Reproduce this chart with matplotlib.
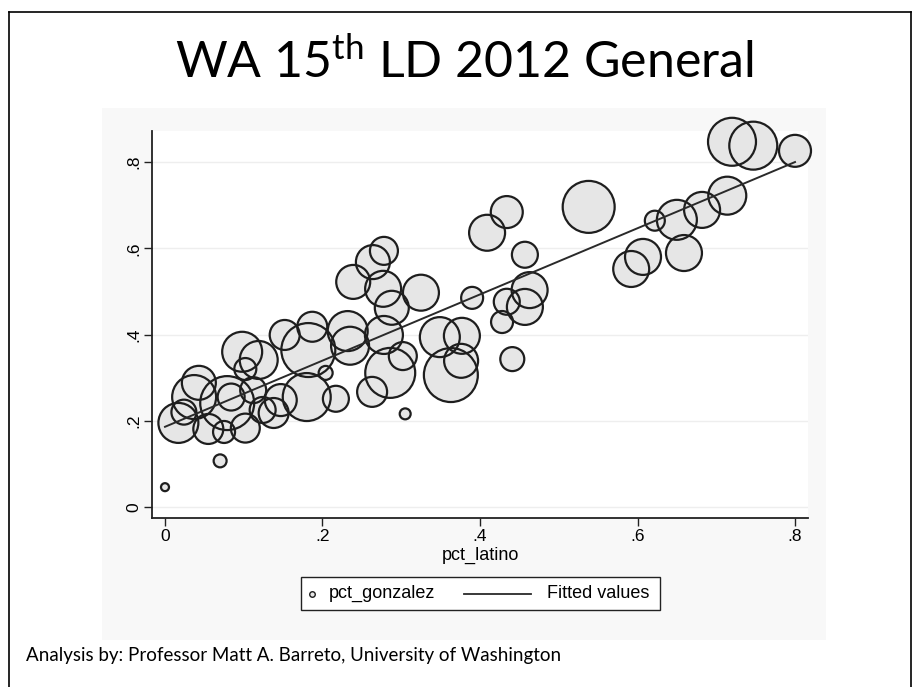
import matplotlib
matplotlib.use("Agg")
import matplotlib.pyplot as plt
from matplotlib.lines import Line2D
from matplotlib.patches import Rectangle

W, H = 918, 687

# precinct-level values
pct_latino = [0.017, 0.024, 0.037, 0.043, 0.055, 0.079, 0.084, 0.098, 0.075, 0.102,
              0.102, 0.112, 0.119, 0.124, 0.147, 0.138, 0.152, 0.182, 0.180, 0.187,
              0.204, 0.217, 0.232, 0.235, 0.239, 0.264, 0.278, 0.277, 0.288, 0.278,
              0.302, 0.286, 0.263, 0.325, 0.349, 0.377, 0.376, 0.363, 0.390, 0.305,
              0.070, 0.000, 0.434, 0.428, 0.463, 0.457, 0.441, 0.434, 0.409, 0.457,
              0.538, 0.592, 0.607, 0.659, 0.622, 0.650, 0.682, 0.714, 0.747, 0.720,
              0.800]
pct_gonzalez = [0.195, 0.220, 0.255, 0.288, 0.181, 0.241, 0.255, 0.360, 0.174, 0.183,
                0.320, 0.271, 0.341, 0.225, 0.248, 0.218, 0.399, 0.364, 0.255, 0.418,
                0.311, 0.251, 0.408, 0.374, 0.522, 0.568, 0.594, 0.506, 0.462, 0.399,
                0.350, 0.311, 0.267, 0.497, 0.394, 0.397, 0.339, 0.306, 0.485, 0.216,
                0.107, 0.046, 0.476, 0.429, 0.503, 0.464, 0.343, 0.684, 0.636, 0.585,
                0.696, 0.552, 0.580, 0.589, 0.664, 0.666, 0.689, 0.722, 0.838, 0.847,
                0.826]
# marker weight (ballots cast, arbitrary units)
votes = [400, 156, 484, 289, 225, 729, 182, 400, 121, 210,
         121, 169, 361, 169, 256, 225, 225, 729, 576, 225,
         49, 169, 400, 361, 289, 289, 196, 324, 289, 361,
         196, 625, 225, 324, 400, 324, 289, 729, 121, 30,
         42, 16, 169, 121, 324, 324, 144, 256, 324, 169,
         676, 324, 324, 324, 100, 400, 324, 361, 576, 576,
         256]

# fitted line endpoints
fit_x = [0.0, 0.8]
fit_y = [0.186, 0.800]

FILL = "#e6e6e6"
EDGE = "#1e1e1e"
SANS = "Liberation Sans"

fig = plt.figure(figsize=(W / 100, H / 100), dpi=100)


def fx(px):
    return px / W


def fy(py):
    return 1 - py / H


# graph region (very light grey) behind the plot
fig.patches.append(Rectangle((fx(102), fy(640)), (826 - 102) / W, (640 - 108) / H,
                             transform=fig.transFigure, facecolor="#f8f8f8",
                             edgecolor="none", zorder=-5))

ax = fig.add_axes([fx(152), fy(518), (808 - 152) / W, (518 - 131) / H])
ax.set_zorder(2)
ax.set_facecolor("white")

sizes = [v * 2.07 for v in votes]
# fills first, then all outlines on top (outlines show through, as in the print)
ax.scatter(pct_latino, pct_gonzalez, s=sizes, facecolor=FILL, edgecolor="none",
           zorder=2, clip_on=False)
ax.scatter(pct_latino, pct_gonzalez, s=sizes, facecolor="none", edgecolor=EDGE,
           linewidths=1.6, zorder=3, clip_on=False)
ax.plot(fit_x, fit_y, color="#2a2a2a", lw=1.4, zorder=4)

ax.set_xlim(-0.0165, 0.8165)
ax.set_ylim(-0.0255, 0.872)
ticks = [0, 0.2, 0.4, 0.6, 0.8]
labels = ["0", ".2", ".4", ".6", ".8"]
ax.set_xticks(ticks)
ax.set_xticklabels(labels, family=SANS, fontsize=12.5)
ax.set_yticks(ticks)
ax.set_yticklabels(labels, family=SANS, fontsize=12.5, rotation=90, va="center")
ax.tick_params(direction="out", length=6, width=1, color="#222222", pad=2)
ax.yaxis.grid(True, color="#eeeeee", lw=1)
ax.set_axisbelow(True)
for side in ("top", "right"):
    ax.spines[side].set_visible(False)
for side in ("left", "bottom"):
    ax.spines[side].set_linewidth(1.3)
    ax.spines[side].set_color("#222222")
ax.set_xlabel("pct_latino", family=SANS, fontsize=13, labelpad=2)

# legend box drawn in figure pixels to match the Stata layout
ly = 593.5
fig.patches.append(Rectangle((fx(301), fy(610)), (660 - 301) / W, (610 - 577) / H,
                             transform=fig.transFigure, facecolor="white",
                             edgecolor="#222222", lw=1.0, zorder=5))
fig.add_artist(Line2D([fx(312)], [fy(ly)], transform=fig.transFigure, marker="o",
                      ls="none", ms=4, mfc=FILL, mec=EDGE, mew=1, zorder=6))
fig.text(fx(329), fy(ly), "pct_gonzalez", family=SANS, fontsize=13,
         ha="left", va="center", zorder=6)
fig.add_artist(Line2D([fx(464), fx(531)], [fy(ly), fy(ly)],
                      transform=fig.transFigure, color="#2a2a2a", lw=1.3, zorder=6))
fig.text(fx(547), fy(ly), "Fitted values", family=SANS, fontsize=13,
         ha="left", va="center", zorder=6)

fig.text(0.506, fy(62), r"WA 15$^{\mathregular{th}}$ LD 2012 General",
         ha="center", va="center", fontsize=36, family="Lato")
fig.text(fx(26), fy(656),
         "Analysis by: Professor Matt A. Barreto, University of Washington",
         ha="left", va="center", fontsize=13.5, family="Lato")

# slide frame
for xs, ys in (([9, 9], [687, 12]), ([9, 911], [12, 12]), ([911, 911], [12, 687])):
    fig.add_artist(Line2D([fx(x) for x in xs], [fy(y) for y in ys],
                          transform=fig.transFigure, color="black", lw=1.2))

fig.savefig("out.png", dpi=100)
